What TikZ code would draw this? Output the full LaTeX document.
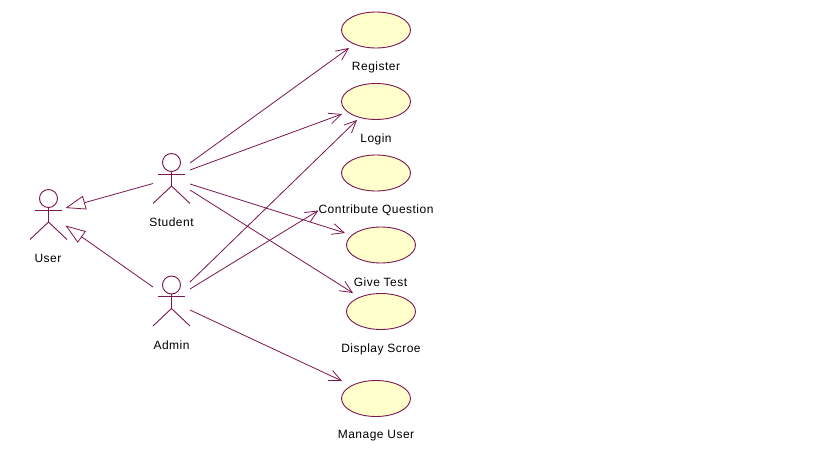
\documentclass[tikz,border=0pt]{standalone}
\usepackage{fontspec}
\setmainfont{Liberation Sans}[LetterSpace=4]
\usetikzlibrary{arrows.meta,shapes.geometric,calc}
\definecolor{umlline}{HTML}{7A1650}
\definecolor{umlfill}{HTML}{FFFFCC}
\tikzset{
  usecase/.style={ellipse,draw=umlline,fill=umlfill,line width=0.9pt,minimum width=69pt,minimum height=36pt,inner sep=0pt,outer sep=0pt},
  actorbox/.style={rectangle,minimum width=37pt,minimum height=50pt,inner sep=0pt,outer sep=0pt},
  actorline/.style={draw=umlline,line width=0.9pt},
  label/.style={text=black,font=\fontsize{12}{14}\selectfont,inner sep=0pt},
  assoc/.style={draw=umlline,line width=0.8pt,-{Straight Barb[length=12pt,width=11pt,line width=0.8pt]}},
  generalize/.style={draw=umlline,line width=0.8pt,-{Triangle[open,length=20pt,width=14pt,line width=0.8pt,fill=white]}}
}
\newcommand{\actorfig}[3]{%
  \node[actorbox] (#1) at (#2,#3) {};
  \draw[actorline] ($(#1)+(0,-16)$) circle (9);
  \draw[actorline] ($(#1)+(-13.5,-4.5)$) -- ($(#1)+(13.5,-4.5)$);
  \draw[actorline] ($(#1)+(0,-7)$) -- ($(#1)+(0,7.5)$);
  \draw[actorline] ($(#1)+(-18.5,25)$) -- ($(#1)+(0,7.5)$) -- ($(#1)+(18.5,25)$);
}
\begin{document}
\begin{tikzpicture}[x=1pt,y=-1pt]
\useasboundingbox (0,0) rectangle (819,460);
\fill[white] (0,0) rectangle (819,460);
\actorfig{user}{48.5}{214.5}
\actorfig{student}{171.5}{178.5}
\actorfig{admin}{171.5}{301}
\node[label] (luser) at (48,258) {User};
\node[label] (lstudent) at (171.5,222.5) {Student};
\node[label] (ladmin) at (171.5,345) {Admin};
\node[usecase] (reg) at (376,30) {};
\node[usecase] (login) at (376,101.5) {};
\node[usecase] (contrib) at (376,173) {};
\node[usecase] (give) at (381,245) {};
\node[usecase] (disp) at (381,311.5) {};
\node[usecase] (manage) at (376,398.5) {};
\node[label] (lreg) at (376,67.5) {Register};
\node[label] (llogin) at (376,139.5) {Login};
\node[label] (lcontrib) at (376,210.5) {Contribute Question};
\node[label] (lgive) at (380.5,282) {Give Test};
\node[label] (ldisp) at (381,349.5) {Display Scroe};
\node[label] (lmanage) at (376,436) {Manage User};
\draw[generalize] ($(student)+(-18.5,5)$) -- ($(user)+(17,-6.5)$);
\draw[generalize] ($(admin)+(-18.5,-14)$) -- ($(user)+(17,11)$);
\draw[assoc] ($(student)+(18.5,-15.5)$) -- ($(reg)+(-27,18)$);
\draw[assoc] ($(student)+(18.5,-8.5)$) -- ($(login)+(-34,12.5)$);
\draw[assoc] ($(student)+(18.5,5.5)$) -- ($(give)+(-36,-12)$);
\draw[assoc] ($(student)+(18.5,11.5)$) -- ($(disp)+(-28,-18.5)$);
\draw[assoc] ($(admin)+(18.5,-19)$) -- ($(login)+(-19,18.5)$);
\draw[assoc] ($(admin)+(18.5,-12)$) -- (lcontrib.west);
\draw[assoc] ($(admin)+(18.5,9)$) -- ($(manage)+(-34,-17.5)$);
\end{tikzpicture}
\end{document}
